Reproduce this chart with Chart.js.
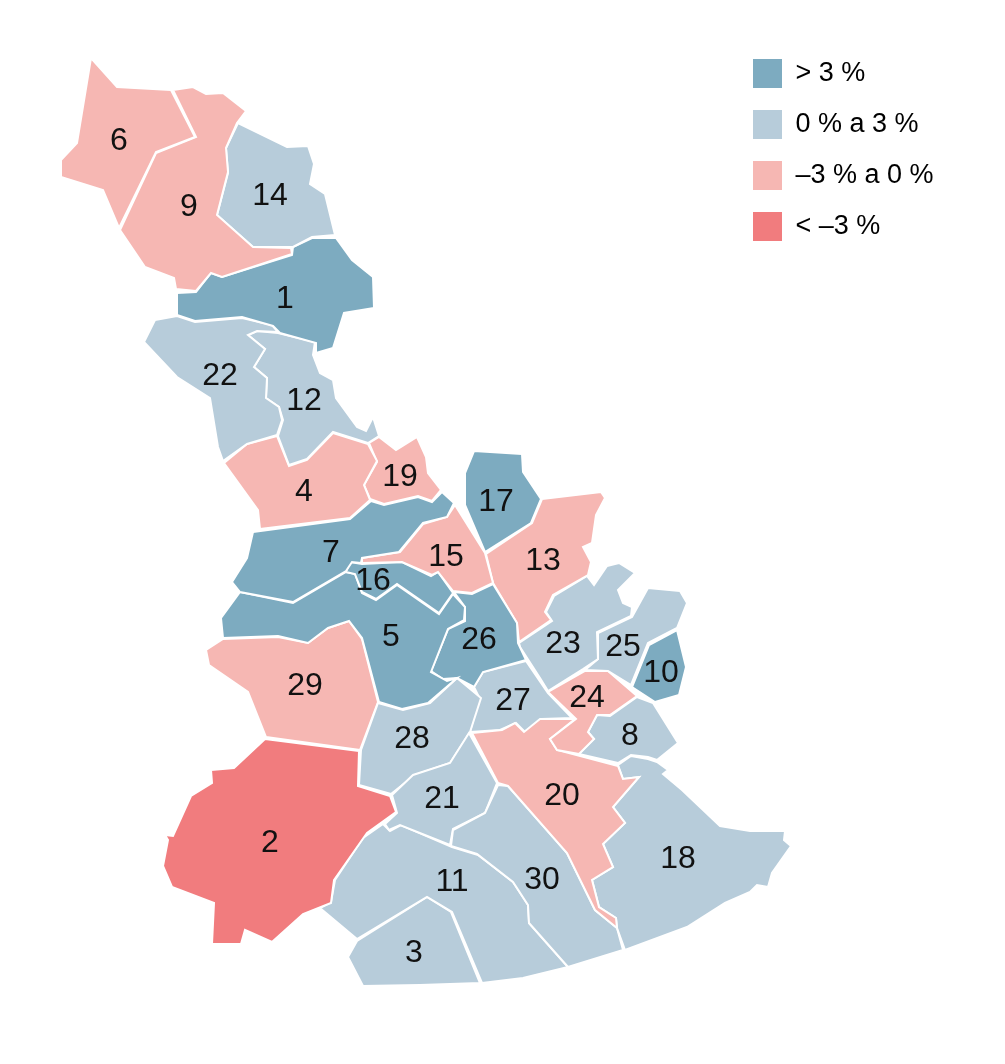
<!DOCTYPE html>
<html lang="es">
<head>
<meta charset="utf-8">
<style>html,body{margin:0;padding:0;background:#fff}#w{width:1005px;height:1064px}</style>
<script src="https://cdn.jsdelivr.net/npm/chart.js@4"></script>
</head>
<body>
<div id="w"><canvas id="c" width="1005" height="1064"></canvas></div>
<script>
const legendLabels = ["> 3 %", "0 % a 3 %", "\u20133 % a 0 %", "< \u20133 %"];
const classColors = ["#7dabc0", "#b7ccda", "#f6b7b3", "#f17c7e"];

const regionIds = [6,9,14,1,22,12,4,19,7,15,16,5,26,13,17,23,25,10,24,8,20,18,30,21,28,27,29,2,11,3];
const regionClass = {1:0,2:3,3:1,4:2,5:0,6:2,7:0,8:1,9:2,10:0,11:1,12:1,13:2,14:1,15:2,16:0,17:0,18:1,19:2,20:2,21:1,22:1,23:1,24:2,25:1,26:0,27:1,28:1,29:2,30:1};

const labelX = {1:285,2:270,3:414,4:304,5:391,6:119,7:331,8:630,9:189,10:661,11:452,12:304,13:543,14:270,15:446,16:373,17:496,18:678,19:400,20:562,21:442,22:220,23:563,24:587,25:623,26:479,27:513,28:412,29:305,30:542};
const labelY = {1:299,2:843,3:953,4:492,5:637,6:141,7:553,8:736,9:207,10:673,11:882,12:401,13:561,14:196,15:557,16:581,17:502,18:859,19:477,20:796,21:799,22:376,23:644,24:698,25:647,26:640,27:701,28:739,29:686,30:880};

const r6 = [[91,58],[117,87],[171,90],[195,137],[156,152],[119,228],[103,190],[61,177],[61,160],[77,143]];
const r9 = [[173,90],[193,87],[206,94],[223,93],[246,111],[237,123],[226,148],[228,172],[217,215],[253,247],[291,248],[292,254],[222,277],[211,273],[196,291],[176,289],[174,278],[145,267],[120,230],[156,153],[196,137]];
const r14 = [[238,123],[287,147],[308,146],[314,164],[310,184],[325,194],[335,235],[312,237],[293,247],[253,247],[217,215],[228,173],[226,148]];
const r1 = [[177,293],[196,292],[211,273],[222,277],[292,255],[293,247],[312,238],[336,238],[352,260],[373,277],[374,308],[344,313],[333,348],[316,353],[316,343],[280,333],[273,326],[242,317],[195,321],[177,315]];
const r22 = [[155,320],[177,316],[195,322],[242,318],[272,325],[278,332],[257,331],[248,335],[265,349],[254,367],[267,378],[266,398],[279,407],[282,420],[277,435],[247,444],[223,461],[218,447],[210,398],[177,377],[144,342]];
const r12 = [[257,331],[278,333],[315,342],[313,355],[320,373],[333,380],[336,398],[357,427],[366,431],[373,417],[379,436],[368,443],[333,432],[307,459],[289,465],[278,436],[283,420],[279,407],[266,398],[267,378],[254,367],[265,349],[248,335]];
const r4 = [[277,436],[289,466],[307,460],[333,433],[368,444],[377,461],[364,485],[370,500],[350,518],[260,529],[258,510],[224,463],[247,444]];
const r19 = [[369,443],[379,437],[396,450],[417,437],[426,457],[428,473],[441,490],[432,501],[418,496],[384,504],[370,499],[364,485],[377,462]];
const r7 = [[253,532],[350,519],[371,501],[384,505],[418,497],[432,502],[442,492],[454,503],[447,517],[423,523],[399,552],[362,558],[361,563],[352,562],[346,571],[293,602],[240,592],[232,582],[247,558]];
const r15 = [[362,558],[400,552],[423,524],[447,517],[455,505],[485,553],[493,583],[472,593],[453,591],[438,572],[432,575],[402,562],[362,563]];
const r16 = [[350,562],[362,564],[402,562],[431,576],[438,572],[453,593],[439,613],[397,584],[376,599],[362,592],[355,574],[346,572]];
const r5 = [[240,592],[293,603],[346,572],[355,574],[362,593],[376,600],[397,585],[439,614],[453,594],[465,607],[464,620],[448,629],[431,672],[447,681],[457,678],[428,703],[402,709],[379,702],[362,638],[349,621],[328,628],[308,643],[278,636],[223,638],[221,618]];
const r26 = [[454,592],[472,594],[493,584],[517,623],[518,643],[526,660],[483,672],[474,687],[457,678],[443,679],[431,671],[448,629],[465,621],[465,607]];
const r13 = [[486,554],[532,523],[542,499],[601,492],[605,498],[596,515],[592,543],[583,547],[591,562],[588,575],[553,595],[545,612],[551,620],[519,642],[517,623],[493,583]];
const r17 = [[474,451],[522,454],[523,472],[541,499],[531,523],[485,552],[465,505],[465,473]];
const r23 = [[519,643],[552,621],[546,612],[554,596],[587,576],[594,585],[607,566],[619,563],[635,573],[618,590],[623,603],[632,607],[631,616],[597,632],[598,659],[583,669],[548,691],[540,678],[520,647]];
const r25 = [[598,633],[632,617],[648,588],[680,591],[687,603],[677,628],[648,643],[631,685],[608,671],[585,670],[598,659]];
const r10 = [[677,630],[686,667],[679,695],[655,702],[632,687],[649,645]];
const r24 = [[548,692],[585,671],[608,671],[637,696],[610,715],[597,715],[588,732],[594,739],[579,754],[557,750],[550,739],[576,719]];
const r8 = [[597,715],[610,716],[637,697],[653,703],[678,743],[657,760],[648,757],[631,755],[618,763],[579,754],[594,739],[588,732]];
const r20 = [[472,733],[502,730],[515,723],[524,732],[540,719],[575,719],[550,739],[557,750],[618,766],[623,779],[639,777],[613,807],[625,823],[603,844],[613,867],[592,880],[599,907],[616,918],[617,928],[595,910],[567,853],[508,786],[498,783]];
const r18 = [[618,765],[631,756],[648,759],[657,762],[668,770],[663,774],[682,790],[720,826],[750,831],[785,831],[784,840],[791,846],[772,873],[768,887],[757,885],[750,892],[725,903],[687,927],[625,950],[617,928],[616,918],[599,907],[592,880],[613,867],[603,844],[625,823],[613,807],[639,777],[623,779]];
const r30 = [[498,785],[508,786],[567,853],[595,910],[617,928],[623,950],[568,967],[529,923],[528,905],[513,882],[477,854],[451,846],[453,830],[485,813]];
const r21 = [[392,795],[413,775],[450,763],[469,733],[497,783],[485,813],[453,829],[450,845],[400,825],[389,830],[385,824],[397,813]];
const r28 = [[378,703],[403,710],[430,703],[457,678],[481,698],[470,732],[450,763],[415,775],[391,794],[359,785],[361,750]];
const r27 = [[483,672],[526,661],[548,693],[572,718],[542,719],[525,732],[516,723],[500,730],[470,732],[479,697],[474,687]];
const r29 = [[206,650],[223,639],[278,637],[308,643],[328,628],[349,621],[362,639],[378,702],[360,750],[266,737],[248,692],[209,665]];
const r2 = [[265,739],[359,751],[358,786],[390,796],[396,812],[367,833],[334,880],[331,903],[303,914],[272,942],[245,930],[241,944],[212,944],[214,903],[172,887],[163,866],[168,840],[165,835],[173,836],[191,796],[212,783],[211,770],[234,768]];
const r11 = [[383,824],[390,831],[401,825],[452,847],[478,855],[513,882],[528,905],[529,923],[568,967],[523,978],[482,983],[452,912],[427,897],[357,939],[320,908],[331,902],[335,880],[363,838]];
const r3 = [[357,941],[427,897],[451,912],[480,983],[420,985],[363,986],[348,957]];

const shapes = {1:r1,2:r2,3:r3,4:r4,5:r5,6:r6,7:r7,8:r8,9:r9,10:r10,11:r11,12:r12,13:r13,14:r14,15:r15,16:r16,17:r17,18:r18,19:r19,20:r20,21:r21,22:r22,23:r23,24:r24,25:r25,26:r26,27:r27,28:r28,29:r29,30:r30};

const regionNumbers = {
  id: 'regionNumbers',
  afterDatasetsDraw(chart) {
    const {ctx, scales:{x, y}} = chart;
    ctx.save();
    ctx.fillStyle = '#111';
    ctx.font = '32px "Liberation Sans"';
    ctx.textAlign = 'center';
    ctx.textBaseline = 'middle';
    regionIds.forEach(id => ctx.fillText(String(id), x.getPixelForValue(labelX[id]), y.getPixelForValue(labelY[id])));
    ctx.restore();
  }
};
const placeLegend = {
  id: 'placeLegend',
  afterLayout(chart) {
    chart.legend.left = 731;
    chart.legend.right = 1005;
    chart.legend.top = 37;
    chart.legend.bottom = 300;
  }
};

new Chart(document.getElementById('c'), {
  type: 'scatter',
  data: {
    datasets: regionIds.map(id => ({
      label: String(id),
      data: shapes[id].concat([shapes[id][0]]),
      showLine: true,
      tension: 0,
      fill: 'shape',
      backgroundColor: classColors[regionClass[id]],
      borderColor: '#ffffff',
      borderWidth: 2,
      borderJoinStyle: 'miter',
      pointRadius: 0,
      pointHoverRadius: 0
    }))
  },
  options: {
    responsive: false,
    animation: false,
    layout: {padding: 0},
    scales: {
      x: {type: 'linear', min: 0, max: 1005, display: false},
      y: {type: 'linear', min: 0, max: 1064, reverse: true, display: false}
    },
    plugins: {
      tooltip: {enabled: false},
      legend: {
        position: 'chartArea',
        align: 'start',
        labels: {
          boxWidth: 29,
          boxHeight: 29,
          padding: 22,
          color: '#111',
          font: {family: '"Liberation Sans"', size: 27},
          generateLabels: () => legendLabels.map((t, i) => ({
            text: t, fillStyle: classColors[i], strokeStyle: classColors[i], lineWidth: 0, hidden: false, datasetIndex: i
          }))
        }
      }
    }
  },
  plugins: [placeLegend, regionNumbers]
});
</script>
</body>
</html>
